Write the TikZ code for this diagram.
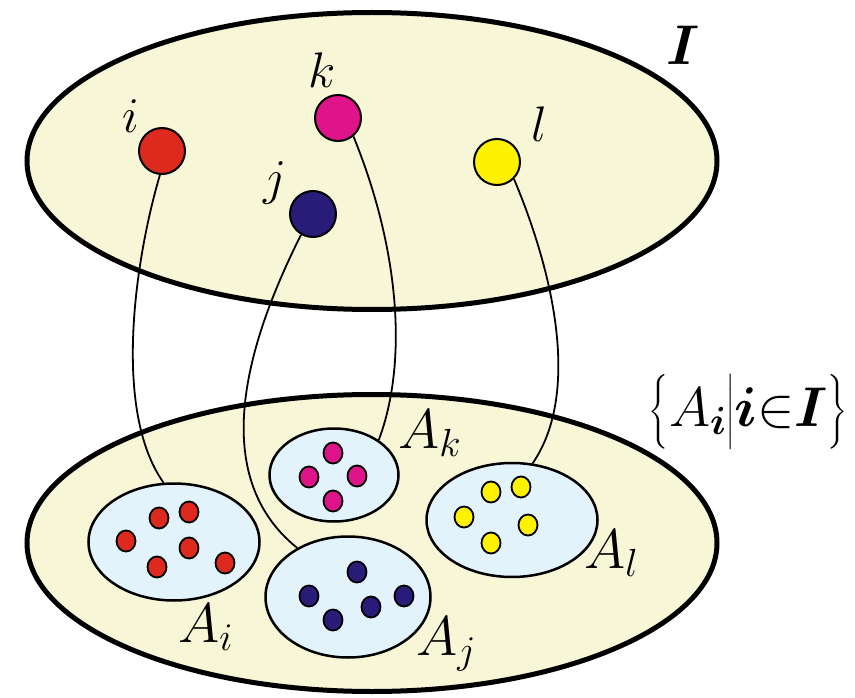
\documentclass[tikz,border=0pt]{standalone}
\usepackage{fix-cm}
\usepackage{amsmath}
\usepackage{bm}
\usetikzlibrary{shapes.geometric}
\definecolor{cream}{HTML}{F7F6D7}
\definecolor{paleblue}{HTML}{E3F3FB}
\definecolor{cred}{HTML}{DE2A1E}
\definecolor{cmag}{HTML}{E0148A}
\definecolor{cnavy}{HTML}{281C78}
\definecolor{cyel}{HTML}{FFF200}

\begin{document}
\begin{tikzpicture}[x=1pt,y=-1pt,
      set/.style={ellipse, draw, line width=5pt, fill=cream, minimum width=690pt,
                  minimum height=297pt, inner sep=0pt},
      sub/.style={ellipse, draw, line width=2.5pt, fill=paleblue, inner sep=0pt},
      elem/.style={circle, draw, line width=2pt, minimum size=46pt, inner sep=0pt},
      memb/.style={ellipse, draw, line width=1.8pt, minimum width=19pt,
                   minimum height=21pt, inner sep=0pt},
      link/.style={line width=1.8pt},
      lbl/.style={font=\fontsize{50}{60}\selectfont, inner sep=0pt},
      big/.style={font=\fontsize{56}{76}\selectfont, inner sep=0pt}
    ]
      \useasboundingbox (0,0) rectangle (855,698);

      \node[set] (index) at (372,161) {};
      \node[set] (family) at (372,543) {};

      \node[sub, minimum width=171pt, minimum height=117pt] (Ai) at (174,542) {};
      \node[sub, minimum width=165pt, minimum height=121pt] (Aj) at (348,597) {};
      \node[sub, minimum width=129pt, minimum height=93pt] (Ak) at (334,475) {};
      \node[sub, minimum width=171pt, minimum height=114pt] (Al) at (512,520) {};

      \node[elem, fill=cred] (di) at (162,151) {};
      \node[elem, fill=cmag] (dk) at (338,118) {};
      \node[elem, fill=cnavy] (dj) at (313,214) {};
      \node[elem, fill=cyel] (dl) at (497,162) {};

      \draw[link] (di.265) .. controls +(-25,85) and +(-51,-72) .. (Ai.100);
      \draw[link] (dj.240) .. controls +(-45,90) and +(-97,-78) .. (Aj.136);
      \draw[link] (dk.-50) .. controls +(45,110) and +(30,-80) .. (Ak.38);
      \draw[link] (dl.-45) .. controls +(40,95) and +(48,-70) .. (Al.70);

      \foreach \p [count=\n] in {(126,541),(159,518),(189,512),(189,548),(157,567),(225,563)}
        \node[memb, fill=cred] (mi\n) at \p {};
      \foreach \p [count=\n] in {(357,572),(309,596),(404,596),(371,607),(333,620)}
        \node[memb, fill=cnavy] (mj\n) at \p {};
      \foreach \p [count=\n] in {(333,453),(309,477),(357,476),(333,501)}
        \node[memb, fill=cmag] (mk\n) at \p {};
      \foreach \p [count=\n] in {(521,487),(491,492),(464,517),(528,525),(491,543)}
        \node[memb, fill=cyel] (ml\n) at \p {};

      \node[lbl] (li) at (131,116) {$i$};
      \node[lbl] (lk) at (322,70) {$k$};
      \node[lbl] (lj) at (275,183) {$j$};
      \node[lbl] (ll) at (539,124) {$l$};
      \node[big] (lI) at (683,45) {$\bm{I}$};

      \node[big, anchor=base west] (lAi) at (178,642) {$A_i$};
      \node[big, anchor=base west] (lAj) at (416,655) {$A_j$};
      \node[big, anchor=base west] (lAk) at (398,448) {$A_k$};
      \node[big, anchor=base west] (lAl) at (584,568) {$A_l$};
      \node[big, anchor=east] (lfam) at (848,412)
        {$\big\{A_{\bm{i}}\big|\bm{i}{\in}\bm{I}\big\}$};
    \end{tikzpicture}
\end{document}
